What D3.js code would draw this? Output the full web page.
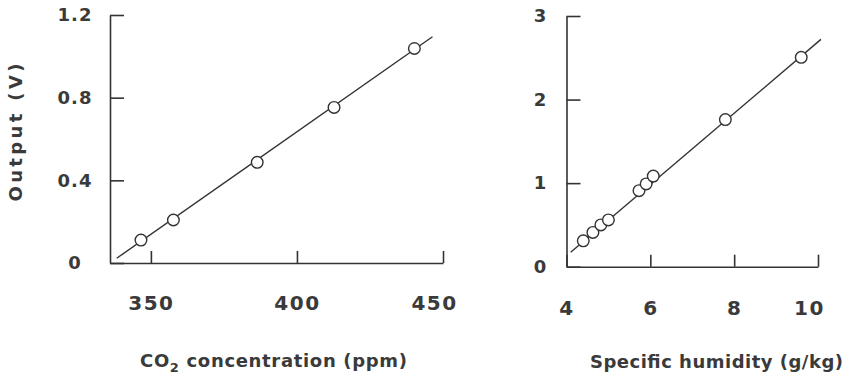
<!DOCTYPE html>
<html>
<head>
<meta charset="utf-8">
<script src="https://cdn.jsdelivr.net/npm/d3@7"></script>
<style>
  body { margin: 0; background: #fff; }
  text { font-family: "DejaVu Sans", sans-serif; font-weight: bold; fill: #3a3a3a; }
</style>
</head>
<body>
<div id="chart"></div>
<script>
// two calibration panels: CO2 and humidity sensor output

///////////////
// data      //
///////////////

// left panel: CO2 concentration (ppm) vs output (V)
const co2Values = [346.6, 357.7, 386.4, 412.7, 440.2];
const co2Output = [0.111, 0.208, 0.487, 0.753, 1.038];
const co2FitX = [338.3, 446.4];
const co2FitY = [0.023, 1.095];
const co2TicksX = [350, 400, 450];
const co2TicksY = [0, 0.4, 0.8, 1.2];

// right panel: specific humidity (g/kg) vs output (V)
const humValues = [4.40, 4.63, 4.82, 5.00, 5.73, 5.90, 6.07, 7.79, 9.60];
const humOutput = [0.31, 0.41, 0.50, 0.56, 0.91, 0.99, 1.085, 1.76, 2.505];
const humFitX = [4.10, 10.07];
const humFitY = [0.172, 2.72];
const humTicksX = [4, 6, 8, 10];
const humTicksY = [0, 1, 2, 3];

const chartWidth = 846;
const chartHeight = 380;
const ink = "#333";

var svg = d3.select("#chart").append("svg")
    .attr("width", chartWidth)
    .attr("height", chartHeight);

svg.append("rect")
    .attr("width", "100%")
    .attr("height", "100%")
    .attr("fill", "#fff");

///////////////
// panels    //
///////////////

drawPanel({
  xs: co2Values, ys: co2Output, fitX: co2FitX, fitY: co2FitY,
  xDomain: [336, 450], xRange: [110, 443],
  yDomain: [0, 1.2], yRange: [263, 15],
  ticksX: co2TicksX, ticksY: co2TicksY,
  fmtY: d => d === 0 ? "0" : d3.format(".1f")(d),
  yLabelX: -35, xLabelPad: 33
});

drawPanel({
  xs: humValues, ys: humOutput, fitX: humFitX, fitY: humFitY,
  xDomain: [4, 10], xRange: [566.5, 818],
  yDomain: [0, 3], yRange: [266.7, 16],
  ticksX: humTicksX, ticksY: humTicksY,
  fmtY: d3.format("d"),
  yLabelX: -26, xLabelPad: 34
});

// axis titles
var co2Title = svg.append("text")
    .attr("x", 140)
    .attr("y", 366.5)
    .attr("font-size", 18)
    .attr("textLength", 267)
    .attr("lengthAdjust", "spacing");
co2Title.append("tspan").text("CO");
co2Title.append("tspan").attr("font-size", 13).attr("dy", 5).text("2");
co2Title.append("tspan").attr("dy", -5).text(" concentration  (ppm)");

svg.append("text")
    .attr("x", 590)
    .attr("y", 368)
    .attr("font-size", 18)
    .attr("textLength", 253)
    .attr("lengthAdjust", "spacing")
    .text("Specific humidity (g/kg)");

svg.append("text")
    .attr("transform", "translate(21.5,201.5) rotate(-90)")
    .attr("font-size", 18)
    .attr("textLength", 138)
    .attr("lengthAdjust", "spacing")
    .text("Output  (V)");

///////////////
// functions //
///////////////

function drawPanel(p) {
  var x = d3.scaleLinear().domain(p.xDomain).range(p.xRange);
  var y = d3.scaleLinear().domain(p.yDomain).range(p.yRange);

  // x axis, ticks point up into the plot
  var gx = svg.append("g")
      .attr("transform", "translate(0," + p.yRange[0] + ")")
      .call(d3.axisBottom(x)
        .tickValues(p.ticksX)
        .tickSize(-12)
        .tickSizeOuter(0)
        .tickPadding(p.xLabelPad)
        .tickFormat(d3.format("d")));

  // y axis, ticks point right into the plot
  var gy = svg.append("g")
      .attr("transform", "translate(" + p.xRange[0] + ",0)")
      .call(d3.axisLeft(y)
        .tickValues(p.ticksY)
        .tickSize(-14)
        .tickSizeOuter(0)
        .tickFormat(p.fmtY));

  [gx, gy].forEach(function(g) {
    g.select(".domain").attr("stroke", ink).attr("stroke-width", 1.6);
    g.selectAll(".tick line").attr("stroke", ink).attr("stroke-width", 1.6);
    g.selectAll(".tick text")
      .attr("fill", "#3a3a3a")
      .style("font-family", "DejaVu Sans, sans-serif");
  });

  gx.selectAll(".tick text")
    .attr("font-size", 20)
    .attr("letter-spacing", 1.5)
    .attr("dx", (d, i) => i === p.ticksX.length - 1 ? -9 : 0);

  gy.selectAll(".tick text")
    .attr("font-size", 18)
    .attr("letter-spacing", 1)
    .attr("text-anchor", "middle")
    .attr("x", p.yLabelX);

  // fitted line
  var fit = p.fitX.map((v, i) => [x(v), y(p.fitY[i])]);
  svg.append("path")
    .attr("d", d3.line()(fit))
    .attr("fill", "none")
    .attr("stroke", ink)
    .attr("stroke-width", 1.4);

  // measured points
  svg.append("g").selectAll("circle")
    .data(p.xs.map((v, i) => [v, p.ys[i]]))
    .join("circle")
    .attr("cx", d => x(d[0]))
    .attr("cy", d => y(d[1]))
    .attr("r", 5.8)
    .attr("fill", "#fff")
    .attr("stroke", ink)
    .attr("stroke-width", 1.4);
}
</script>
</body>
</html>
